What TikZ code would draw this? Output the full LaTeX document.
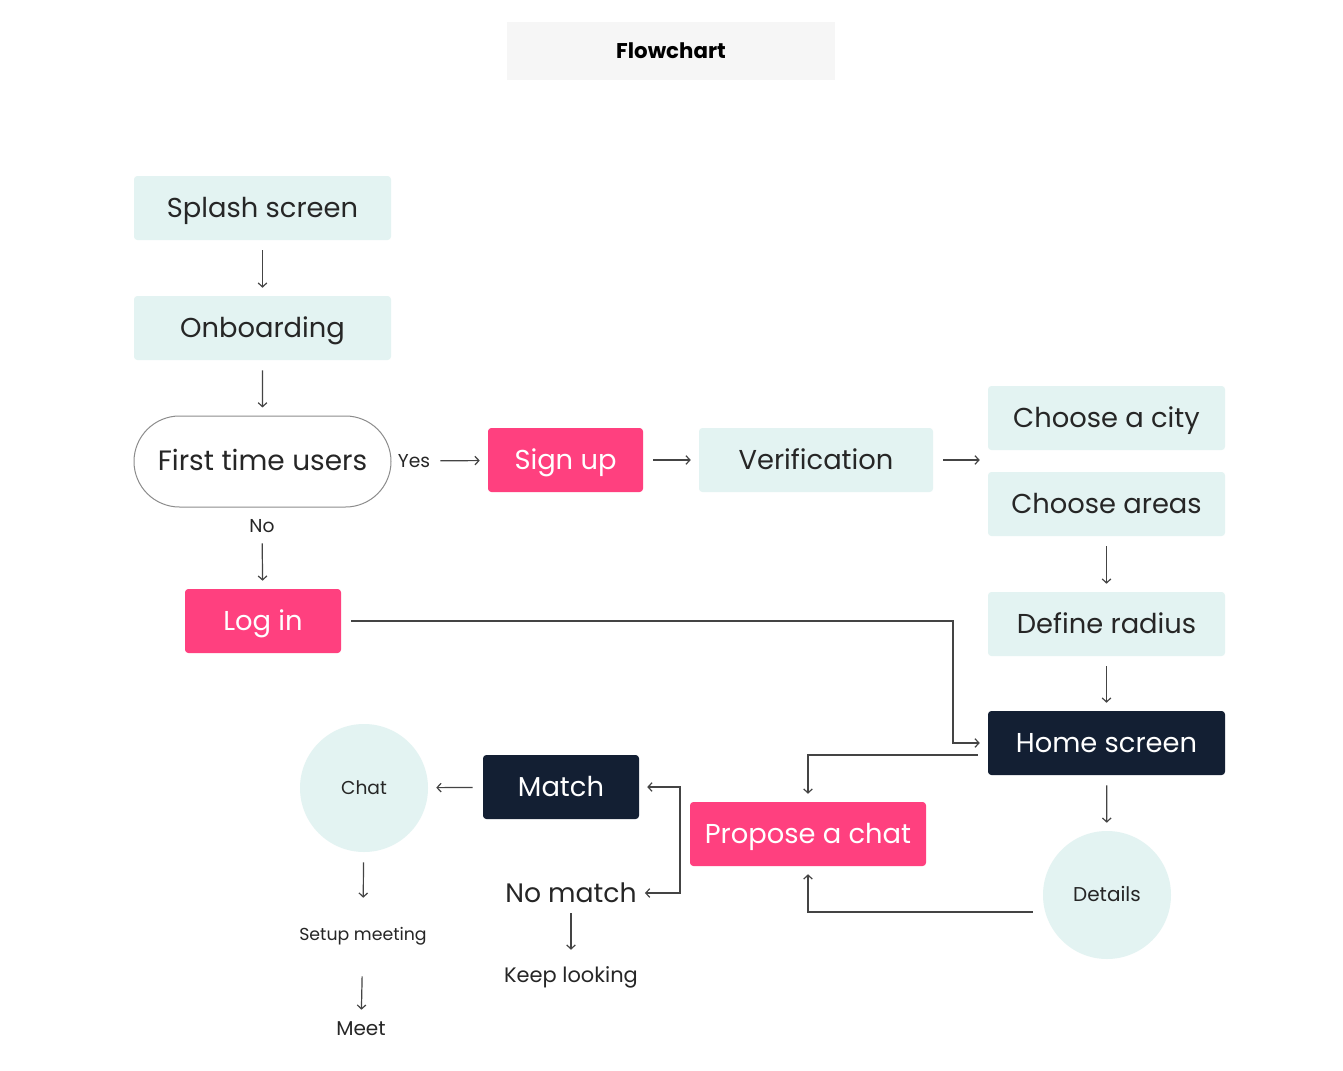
\documentclass[tikz,border=0pt]{standalone}
\usepackage{fontspec}
\setmainfont{Poppins}
\usetikzlibrary{arrows.meta,shapes.misc,positioning}

\definecolor{mint}{HTML}{E3F3F2}
\definecolor{hotpink}{HTML}{FF407F}
\definecolor{navy}{HTML}{131F33}
\definecolor{ink}{HTML}{262626}
\definecolor{wire}{HTML}{444444}
\definecolor{titlegray}{HTML}{F6F6F6}

\tikzset{
  box/.style={rectangle, rounded corners=2.5pt, minimum height=48pt, inner sep=0pt,
    font=\fontsize{20.5}{22}\selectfont, text height=13.8pt, text depth=0pt, text=ink},
  lightbox/.style={box, fill=mint},
  pinkbox/.style={box, fill=hotpink, text=white},
  darkbox/.style={box, fill=navy, text=white},
  bubble/.style={circle, fill=mint, minimum size=96pt, inner sep=0pt,
    font=\fontsize{14}{16}\selectfont, text height=9.6pt, text depth=0pt, text=ink},
  note/.style={inner sep=0pt, text=ink, font=\fontsize{14}{16}\selectfont},
  flow/.style={draw=wire, line width=0.9pt, -{Straight Barb[length=3pt,width=6.5pt]},
    shorten <=7.5pt, shorten >=6pt},
}

\begin{document}
\begin{tikzpicture}[x=0.75pt, y=-0.75pt]
        % Page
        \fill[white] (0,0) rectangle (1343,1071);
        \useasboundingbox (0,0) rectangle (1343,1071);

        % Title
        \node[fill=titlegray, minimum width=246pt, minimum height=43.5pt, inner sep=0pt,
          font=\fontsize{16}{18}\selectfont\bfseries, text height=11pt, text depth=0pt,
          text=black] (title) at (671,51) {Flowchart};

        % Start of the app
        \node[lightbox, minimum width=192.75pt] (splash) at (262.5,208) {Splash screen};
        \node[lightbox, minimum width=192.75pt] (onboarding) at (262.5,328) {Onboarding};
        \node[rounded rectangle, draw=gray!90, line width=0.75pt, fill=white, minimum width=192.75pt,
          minimum height=68.25pt, inner sep=0pt, font=\fontsize{21}{23}\selectfont,
          text height=14.2pt, text depth=0pt, text=ink] (firsttime) at (262.5,461.5) {First time users};
        \node[note, minimum height=15pt] (yes) at (414,461) {Yes};
        \node[note, minimum height=10.5pt] (no) at (262,526) {No};

        % Sign up branch
        \node[pinkbox, minimum width=116.25pt] (signup) at (565.5,460) {Sign up};
        \node[lightbox, minimum width=175.5pt] (verification) at (816,460) {Verification};
        \node[lightbox, minimum width=177.75pt] (city) at (1106.5,418) {Choose a city};
        \node[lightbox, minimum width=177.75pt] (areas) at (1106.5,504) {Choose areas};
        \node[lightbox, minimum width=177.75pt] (radius) at (1106.5,624) {Define radius};
        \node[darkbox, minimum width=177.75pt] (home) at (1106.5,743) {Home screen};

        % Log in branch
        \node[pinkbox, minimum width=117pt] (login) at (263,621) {Log in};

        % Matching
        \node[pinkbox, minimum width=177pt] (propose) at (808,834) {Propose a chat};
        \node[bubble, font=\fontsize{15}{17}\selectfont, text height=10.2pt] (details) at (1107,895) {Details};
        \node[darkbox, minimum width=117pt] (match) at (561,787) {Match};
        \node[note, minimum height=15pt, font=\fontsize{20}{22}\selectfont] (nomatch) at (571,893) {No match};
        \node[note, minimum height=28.5pt, font=\fontsize{15.7}{17}\selectfont] (keep) at (571,977) {Keep looking};
        \node[bubble] (chat) at (364,788) {Chat};
        \node[note, minimum height=45pt, font=\fontsize{13}{15}\selectfont] (setup) at (363,936) {Setup meeting};
        \node[note, minimum height=16.5pt, font=\fontsize{15}{17}\selectfont] (meet) at (361,1029) {Meet};
        \coordinate (fork) at (680,840);
        \coordinate (bend) at (953,621);

        % Connectors
        \draw[flow] (splash) -- (onboarding);
        \draw[flow] (onboarding) -- (firsttime);
        \draw[flow] (yes) -- (signup);
        \draw[flow] (no) -- (login);
        \draw[flow] (signup) -- (verification);
        \draw[flow] (verification) -- (verification -| city.west);
        \draw[flow] (areas) -- (radius);
        \draw[flow] (radius) -- (home);
        \draw[flow] (login) -- (bend) |- (home.west);
        \draw[flow] ([yshift=-9pt]home.west) -| (propose);
        \draw[flow] (home) -- (details);
        \draw[flow] ([yshift=-12.75pt]details.west) -| (propose);
        \draw[flow, shorten <=0pt] (fork) |- (match);
        \draw[flow, shorten <=0pt] (fork) |- (nomatch);
        \draw[flow] (match) -- (chat);
        \draw[flow] (nomatch) -- (keep);
        \draw[flow] (chat) -- (setup);
        \draw[flow] (setup) -- (meet);
    \end{tikzpicture}
\end{document}
